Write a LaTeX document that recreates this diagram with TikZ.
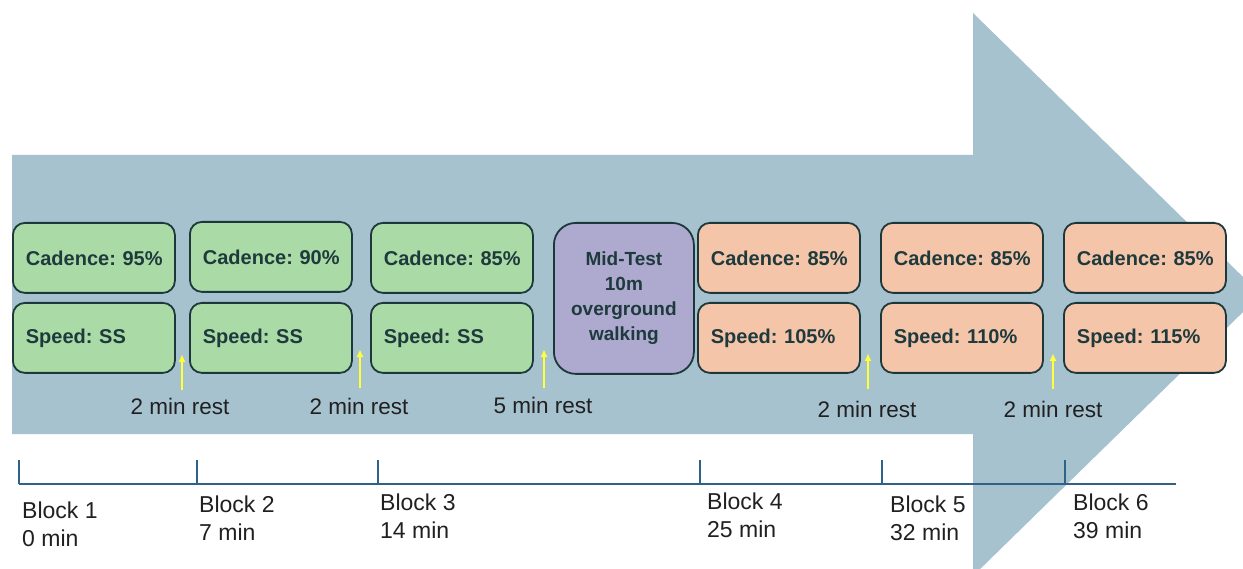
\documentclass[tikz,border=0pt]{standalone}
\usepackage{fontspec}
\setmainfont{Liberation Sans}
\usetikzlibrary{arrows.meta}

\definecolor{arrowbg}{HTML}{A7C2CF}
\definecolor{greenfill}{HTML}{AADAA5}
\definecolor{orangefill}{HTML}{F5C5AA}
\definecolor{purplefill}{HTML}{ADA9CF}
\definecolor{boxline}{HTML}{1D383B}
\definecolor{boxtext}{HTML}{1F3A3D}
\definecolor{labeltext}{HTML}{202020}
\definecolor{axisblue}{HTML}{2F6287}
\definecolor{restyellow}{HTML}{FFFF3A}

\frenchspacing

\begin{document}
\begin{tikzpicture}[x=1pt,y=-1pt,
  tbox/.style={draw=boxline, line width=1.8pt, rounded corners=12pt,
    anchor=north west, minimum width=162pt, minimum height=70pt,
    text width=148pt, inner xsep=7pt, inner ysep=0pt, align=left,
    execute at begin node={\hspace*{6pt}},
    font=\bfseries\fontsize{20}{22}\selectfont, text=boxtext},
  gbox/.style={tbox, fill=greenfill},
  obox/.style={tbox, fill=orangefill},
  midbox/.style={draw=boxline, line width=1.8pt, rounded corners=22pt,
    fill=purplefill, anchor=north west, minimum width=140pt,
    minimum height=151pt, align=center, text=boxtext,
    font=\bfseries\fontsize{19}{25}\selectfont},
  axisline/.style={draw=axisblue, line width=1.8pt},
  restarrow/.style={draw=restyellow, line width=1.6pt,
    -{Triangle[length=7pt,width=6pt]}},
  restlabel/.style={text=labeltext, inner sep=0pt,
    font=\fontsize{22.5}{26}\selectfont},
  blocklabel/.style={text=labeltext, inner sep=0pt, anchor=north west,
    align=left, font=\fontsize{23}{28}\selectfont}]

\useasboundingbox (0,0) rectangle (1243,569);

% large progress arrow in the background
\begin{scope}
  \clip (0,0) rectangle (1243,569);
  \fill[arrowbg] (12,155) -- (973,155) -- (973,13) -- (1261,294.5)
    -- (973,576) -- (973,434) -- (12,434) -- cycle;
\end{scope}

% training blocks
\node[gbox] (c1) at (12,222)   {Cadence: 95\%};
\node[gbox] (s1) at (12,302)   {Speed: SS};
\node[gbox] (c2) at (189,221)  {Cadence: 90\%};
\node[gbox] (s2) at (189,302)  {Speed: SS};
\node[gbox] (c3) at (370,222)  {Cadence: 85\%};
\node[gbox] (s3) at (370,302)  {Speed: SS};
\node[midbox] (mid) at (553,222) {Mid-Test\\10m\\overground\\walking};
\node[obox] (c4) at (697,222)  {Cadence: 85\%};
\node[obox] (s4) at (697,302)  {Speed: 105\%};
\node[obox] (c5) at (880,222)  {Cadence: 85\%};
\node[obox] (s5) at (880,302)  {Speed: 110\%};
\node[obox] (c6) at (1063,222) {Cadence: 85\%};
\node[obox] (s6) at (1063,302) {Speed: 115\%};

% rest markers
\coordinate (r1b) at (182,390);  \coordinate (r1t) at (182,355);
\coordinate (r2b) at (360,388);  \coordinate (r2t) at (360,350);
\coordinate (r3b) at (544,388);  \coordinate (r3t) at (544,350);
\coordinate (r4b) at (868,389);  \coordinate (r4t) at (868,354);
\coordinate (r5b) at (1053,389); \coordinate (r5t) at (1053,354);
\foreach \i in {1,...,5} \draw[restarrow] (r\i b) -- (r\i t);

\node[restlabel] (rest1) at (180,406)  {2 min rest};
\node[restlabel] (rest2) at (359,406)  {2 min rest};
\node[restlabel] (rest3) at (543,405)  {5 min rest};
\node[restlabel] (rest4) at (867,409)  {2 min rest};
\node[restlabel] (rest5) at (1053,409) {2 min rest};

% time axis
\coordinate (axstart) at (19,484);
\coordinate (axend) at (1176,484);
\draw[axisline] (axstart) -- (axend);
\foreach \n/\x in {1/19,2/197,3/378,4/700,5/882,6/1065}{
  \coordinate (tb\n) at (\x,484);
  \coordinate (tt\n) at (\x,460);
  \draw[axisline] (tb\n) -- (tt\n);
}

\node[blocklabel] (b1) at (22,502)   {Block 1\\0 min};
\node[blocklabel] (b2) at (199,496)  {Block 2\\7 min};
\node[blocklabel] (b3) at (380,494)  {Block 3\\14 min};
\node[blocklabel] (b4) at (707,493)  {Block 4\\25 min};
\node[blocklabel] (b5) at (890,496)  {Block 5\\32 min};
\node[blocklabel] (b6) at (1073,494) {Block 6\\39 min};

\end{tikzpicture}
\end{document}
